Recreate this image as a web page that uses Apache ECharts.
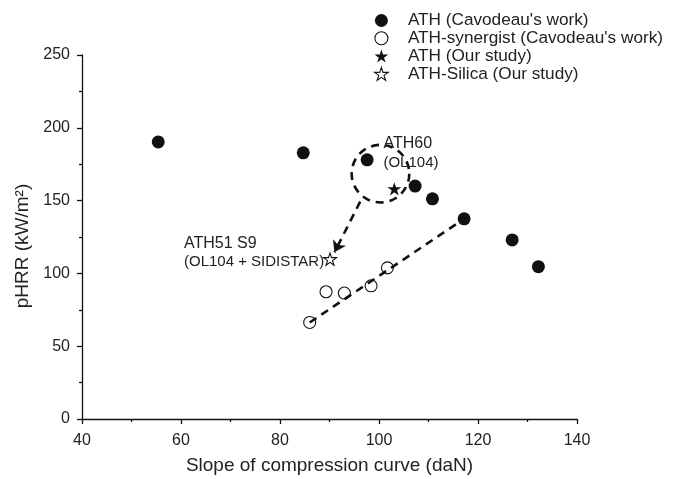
<!DOCTYPE html>
<html><head><meta charset="utf-8">
<script src="https://cdn.jsdelivr.net/npm/echarts@6/dist/echarts.min.js"></script>
<style>html,body{margin:0;padding:0;background:#fff}#c{width:674px;height:479px}</style>
</head><body><div id="c"></div>
<script>
// ---- data ----
const seriesNames = ["ATH (Cavodeau's work)", "ATH-synergist (Cavodeau's work)", "ATH (Our study)", "ATH-Silica (Our study)"];
const athCavX = [55.4, 84.7, 97.6, 107.3, 110.8, 117.2, 126.9, 132.2];
const athCavY = [190.3, 182.8, 178.0, 160.0, 151.2, 137.5, 123.0, 104.6];
const synX = [86.0, 89.3, 93.0, 98.4, 101.7];
const synY = [66.3, 87.4, 86.5, 91.5, 103.8];
const athOurX = [103.1];
const athOurY = [158.1];
const silicaX = [90.1];
const silicaY = [109.8];
const trendX = [86.0, 117.2];
const trendY = [66.3, 137.5];
const arrowFrom = [96.2, 149.3];
const arrowTo = [91.0, 114.5];
const ringCenter = [100.3, 168.5];
const ringRadiusX = 5.82; // radius expressed in x-axis units
const noteText = ['ATH60', '(OL104)', 'ATH51 S9', '(OL104 + SIDISTAR)'];
const noteX = [100.9, 100.9, 60.6, 60.6];
const noteY = [189.0, 175.7, 120.8, 107.8];
const xTicks = [40, 60, 80, 100, 120, 140];
const yTicks = [0, 50, 100, 150, 200, 250];

const zip = (xs, ys) => xs.map((x, i) => [x, ys[i]]);
const FONT = 'Liberation Sans, Arial, sans-serif';
const INK = '#111';
const STAR = 'path://M50,0 L61.2,34.5 L97.6,34.5 L68.2,55.9 L79.4,90.5 L50,69.1 L20.6,90.5 L31.8,55.9 L2.4,34.5 L38.8,34.5 Z';
const noteSize = [16, 15, 16, 15];

const filled = {color: INK, opacity: 1, borderWidth: 0};
const hollow = {color: 'rgba(255,255,255,0)', opacity: 1, borderColor: INK, borderWidth: 1.1};

const chart = echarts.init(document.getElementById('c'), null, {renderer: 'canvas'});
chart.setOption({
  animation: false,
  backgroundColor: '#fff',
  grid: {left: 82, right: 97, top: 55, bottom: 60, containLabel: false, outerBoundsMode: 'none'},
  legend: {
    data: [
      {name: seriesNames[0], icon: 'circle', itemStyle: filled},
      {name: seriesNames[1], icon: 'circle', itemStyle: hollow},
      {name: seriesNames[2], icon: STAR, itemStyle: filled},
      {name: seriesNames[3], icon: STAR, itemStyle: hollow}
    ],
    orient: 'vertical',
    left: 374, top: 12,
    padding: 0,
    itemWidth: 43, itemHeight: 13,
    itemGap: 0.8,
    textStyle: {fontFamily: FONT, fontSize: 17.2, color: '#222', lineHeight: 17}
  },
  xAxis: {
    type: 'value', min: xTicks[0], max: xTicks[xTicks.length - 1], interval: 20,
    name: 'Slope of compression curve (daN)', nameLocation: 'middle', nameGap: 37,
    nameTextStyle: {fontFamily: FONT, fontSize: 19, color: '#222'},
    axisLine: {show: true, onZero: false, lineStyle: {color: INK, width: 1.3}},
    axisTick: {show: true, length: 5, lineStyle: {color: INK, width: 1.3}},
    minorTick: {show: true, splitNumber: 2, length: 3, lineStyle: {color: INK, width: 1.3}},
    axisLabel: {fontFamily: FONT, fontSize: 16, color: '#222', margin: 14},
    splitLine: {show: false}
  },
  yAxis: {
    type: 'value', min: yTicks[0], max: yTicks[yTicks.length - 1], interval: 50,
    name: 'pHRR (kW/m²)', nameLocation: 'middle', nameGap: 40,
    nameTextStyle: {fontFamily: FONT, fontSize: 19, color: '#222', padding: [0, 18, 0, 0]},
    axisLine: {show: true, onZero: false, lineStyle: {color: INK, width: 1.3}},
    axisTick: {show: true, length: 5, lineStyle: {color: INK, width: 1.3}},
    minorTick: {show: true, splitNumber: 2, length: 3, lineStyle: {color: INK, width: 1.3}},
    axisLabel: {fontFamily: FONT, fontSize: 16, color: '#222', margin: 12},
    splitLine: {show: false}
  },
  series: [
    {
      name: 'trend', type: 'line', data: zip(trendX, trendY), symbol: 'none', silent: true, z: 1,
      lineStyle: {color: INK, width: 2.6, type: [8, 6]}
    },
    {
      name: 'arrow', type: 'line', data: [], silent: true, z: 1,
      markLine: {
        silent: true, symbol: ['none', 'arrow'], symbolSize: 11,
        label: {show: false},
        lineStyle: {color: INK, width: 2.6, type: [8, 6]},
        emphasis: {disabled: true},
        data: [[{coord: arrowFrom}, {coord: arrowTo}]]
      }
    },
    {
      name: 'ring', type: 'custom', silent: true, z: 1, clip: false,
      data: [[ringCenter[0], ringCenter[1], ringRadiusX]],
      renderItem: (params, api) => {
        const c = api.coord([api.value(0), api.value(1)]);
        const r = api.size([api.value(2), 0])[0];
        return {type: 'circle', shape: {cx: c[0], cy: c[1], r: r},
          style: {fill: 'none', stroke: INK, lineWidth: 2.6, lineDash: [8, 6]}};
      }
    },
    {
      name: 'notes', type: 'custom', silent: true, z: 3, clip: false,
      data: noteX.map((x, i) => [x, noteY[i], i]),
      renderItem: (params, api) => {
        const i = api.value(2);
        const p = api.coord([api.value(0), api.value(1)]);
        return {type: 'text', x: p[0], y: p[1],
          style: {text: noteText[i], fontFamily: FONT, fontSize: noteSize[i], fill: '#222',
            align: 'left', verticalAlign: 'middle'}};
      }
    },
    {
      name: seriesNames[0], type: 'scatter', data: zip(athCavX, athCavY), symbol: 'circle', symbolSize: 13, z: 4,
      itemStyle: filled, emphasis: {disabled: true}
    },
    {
      name: seriesNames[1], type: 'scatter', data: zip(synX, synY), symbol: 'circle', symbolSize: 12, z: 4,
      itemStyle: hollow, emphasis: {disabled: true}
    },
    {
      name: seriesNames[2], type: 'scatter', data: zip(athOurX, athOurY), symbol: STAR, symbolSize: 14, symbolKeepAspect: true, z: 4,
      itemStyle: filled, emphasis: {disabled: true}
    },
    {
      name: seriesNames[3], type: 'scatter', data: zip(silicaX, silicaY), symbol: STAR, symbolSize: 13, symbolKeepAspect: true, z: 4,
      itemStyle: hollow, emphasis: {disabled: true}
    }
  ]
});
</script></body></html>
